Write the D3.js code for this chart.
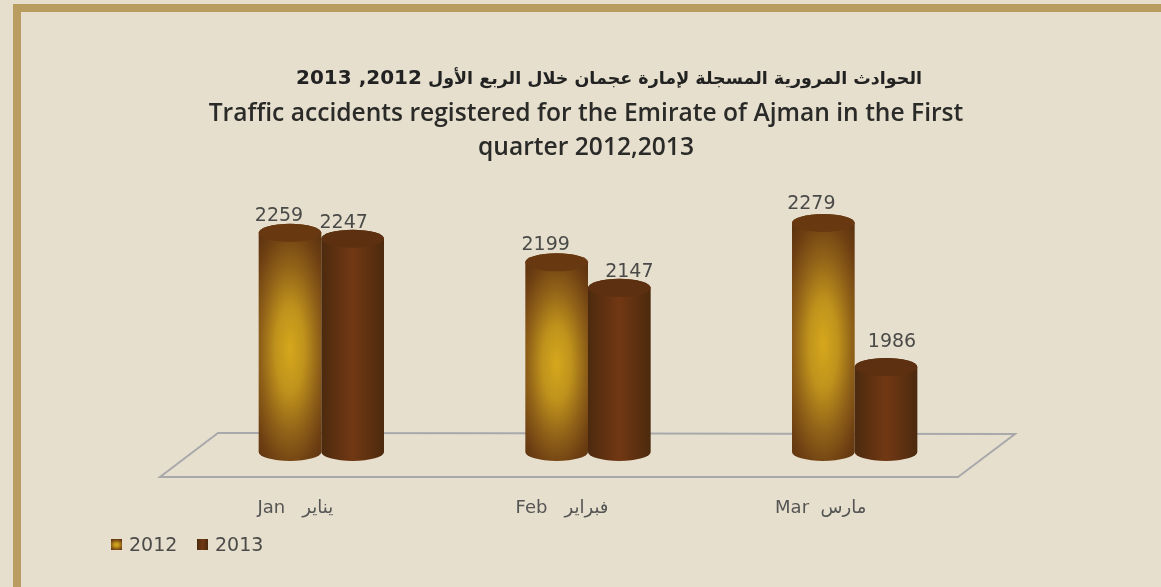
<!DOCTYPE html>
<html lang="en">
<head>
    <meta charset="UTF-8">
    <title>Traffic accidents Ajman</title>
    <script src="https://d3js.org/d3.v7.min.js"></script>
    <style>
        html, body { margin: 0; padding: 0; background: #e6dfcd; overflow: hidden; }
        svg { display: block; filter: blur(0.7px); }
        .title { font-family: "Open Sans", sans-serif; font-weight: 600; fill: #2a2a28; font-size: 24.6px; }
        .titleAr { font-family: "DejaVu Sans", sans-serif; font-weight: 700; fill: #222; font-size: 17.5px; }
        .titleAr .digits { font-size: 20px; }
        .value { font-family: "DejaVu Sans", sans-serif; font-size: 19px; fill: #4a4a48; }
        .legendText { font-family: "DejaVu Sans", sans-serif; font-size: 19px; fill: #4a4a48; }
        .xAxis text { font-family: "DejaVu Sans", sans-serif; font-size: 18px; fill: #555; white-space: pre; }
    </style>
</head>
<body>
    <div id="chart"></div>
    <script>
        var titleArabic = "الحوادث المرورية المسجلة لإمارة عجمان خلال الربع الأول ";
        var titleYears = "2012, 2013";
        var titleLines = ["Traffic accidents registered for the Emirate of Ajman in the First", "quarter 2012,2013"];
        var categories = ["Jan   يناير", "Feb   فبراير", "Mar  مارس"];
        var years = ["2012", "2013"];
        var values2012 = [2259, 2199, 2279];
        var values2013 = [2247, 2147, 1986];

        var w = 1161,
            h = 587;

        var svg = d3.select("#chart")
            .append("svg")
            .attr("width", w)
            .attr("height", h);

        // gradients
        var defs = svg.append("defs");
        var gold = defs.append("radialGradient").attr("id", "gold2012")
            .attr("cx", 0.5).attr("cy", 0.53).attr("r", 0.6)
            .attr("gradientTransform", "translate(0.5 0.53) scale(1.3 1) translate(-0.5 -0.53)");
        [[0, "#d6a71c"], [0.3, "#bf921c"], [0.6, "#8f6118"], [0.85, "#6e3f12"], [1, "#5e3410"]].forEach(function(s) {
            gold.append("stop").attr("offset", s[0]).attr("stop-color", s[1]);
        });
        var brown = defs.append("linearGradient").attr("id", "brown2013");
        [[0, "#4c2a0e"], [0.5, "#723814"], [1, "#4c2a0e"]].forEach(function(s) {
            brown.append("stop").attr("offset", s[0]).attr("stop-color", s[1]);
        });

        // frame
        svg.append("path")
            .attr("d", "M17," + h + "V8H" + w)
            .attr("fill", "none")
            .attr("stroke", "#b89c60")
            .attr("stroke-width", 8);

        // scales
        var x0 = d3.scaleBand().domain(categories).range([188, 988]).paddingInner(0.53).paddingOuter(0.265);
        var x1 = d3.scaleBand().domain(years).range([0, x0.bandwidth()]);
        var y = d3.scaleLinear().domain([1813, 2279]).range([452, 223]);
        var color = d3.scaleOrdinal().domain(years).range(["url(#gold2012)", "url(#brown2013)"]);
        var capColor = d3.scaleOrdinal().domain(years).range(["#683810", "#5c3010"]);

        var baseY = y(1813);
        var ry = 9;

        // floor
        var floor = [[218, baseY - 19], [1015, baseY - 18], [958, baseY + 25], [160, baseY + 25]];
        svg.append("path")
            .attr("d", d3.line()(floor) + "Z")
            .attr("fill", "none")
            .attr("stroke", "#a9a9ab")
            .attr("stroke-width", 2);

        // title
        var ar = svg.append("text").attr("class", "titleAr")
            .attr("x", 609).attr("y", 84)
            .attr("text-anchor", "middle")
            .attr("direction", "rtl");
        ar.append("tspan").text(titleArabic);
        ar.append("tspan").attr("class", "digits").text(titleYears);

        svg.selectAll(".title")
            .data(titleLines)
            .enter()
            .append("text")
            .attr("class", "title")
            .attr("x", 586)
            .attr("y", function(d, i) { return 121 + i * 34; })
            .attr("text-anchor", "middle")
            .text(function(d) { return d; });

        // bars
        var rows = [];
        categories.forEach(function(c, i) {
            rows.push({cat: c, year: "2012", n: values2012[i]});
            rows.push({cat: c, year: "2013", n: values2013[i]});
        });

        var bars = svg.selectAll(".bar")
            .data(rows)
            .enter()
            .append("g")
            .attr("class", "bar");

        bars.append("path")
            .attr("fill", function(d) { return color(d.year); })
            .attr("d", function(d) {
                var left = x0(d.cat) + x1(d.year);
                var rx = x1.bandwidth() / 2;
                var top = y(d.n);
                return "M" + left + "," + top + "V" + baseY +
                    "A" + rx + "," + ry + " 0 0 0 " + (left + 2 * rx) + "," + baseY +
                    "V" + top +
                    "A" + rx + "," + ry + " 0 0 0 " + left + "," + top + "Z";
            });

        bars.append("ellipse")
            .attr("cx", function(d) { return x0(d.cat) + x1(d.year) + x1.bandwidth() / 2; })
            .attr("cy", function(d) { return y(d.n); })
            .attr("rx", x1.bandwidth() / 2)
            .attr("ry", ry)
            .attr("fill", function(d) { return capColor(d.year); });

        // value labels, nudged by hand like the original
        var labelDx = [-11, -9, -11, 10, -12, 6];
        var labelDy = [-12, -11, -12, -11, -14, -20];
        svg.selectAll(".value")
            .data(rows)
            .enter()
            .append("text")
            .attr("class", "value")
            .attr("text-anchor", "middle")
            .attr("x", function(d, i) { return x0(d.cat) + x1(d.year) + x1.bandwidth() / 2 + labelDx[i]; })
            .attr("y", function(d, i) { return y(d.n) + labelDy[i]; })
            .text(function(d) { return d.n; });

        // category axis
        var axisDx = [1, 1, -7];
        var axisG = svg.append("g")
            .attr("class", "xAxis")
            .attr("transform", "translate(-27," + (baseY + 45) + ")")
            .call(d3.axisBottom(x0).tickSize(0).tickPadding(3));
        axisG.select(".domain").remove();
        axisG.selectAll("text")
            .attr("direction", "ltr")
            .style("unicode-bidi", "plaintext")
            .attr("dx", function(d, i) { return axisDx[i]; });

        // legend
        var legendX = d3.scalePoint().domain(years).range([111, 197]);
        var legend = svg.selectAll(".legend")
            .data(years)
            .enter()
            .append("g")
            .attr("class", "legend")
            .attr("transform", function(d) { return "translate(" + legendX(d) + ",539)"; });
        legend.append("rect")
            .attr("width", 11).attr("height", 11)
            .attr("fill", function(d) { return color(d); });
        legend.append("text")
            .attr("class", "legendText")
            .attr("x", 18).attr("y", 12)
            .text(function(d) { return d; });
    </script>
</body>
</html>
